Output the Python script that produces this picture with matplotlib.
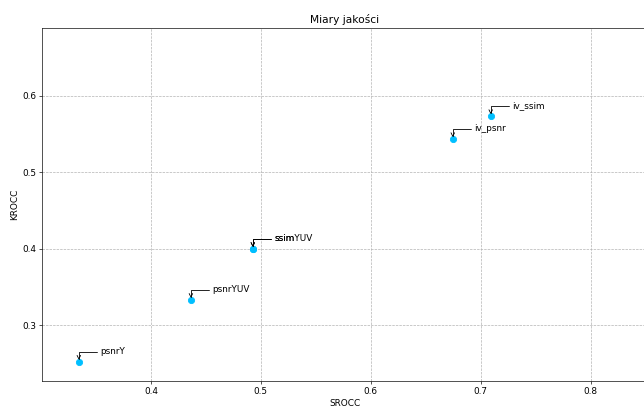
import matplotlib
matplotlib.use('Agg')
import matplotlib.pyplot as plt

# quality metrics: SROCC vs KROCC
labels = ['psnrY', 'psnrYUV', 'ssim', 'ssimYUV', 'iv_psnr', 'iv_ssim']
srocc = [0.3345, 0.4364, 0.4927, 0.4927, 0.6745, 0.7090]
krocc = [0.2523, 0.3333, 0.4000, 0.4000, 0.5438, 0.5739]

plt.rcParams['font.size'] = 10.6

fig = plt.figure(figsize=(644 / 60, 408 / 60), dpi=60)
ax = fig.add_axes([42 / 644, 27 / 408, 606 / 644, 353 / 408])

ax.plot(srocc, krocc, 'o', color='deepskyblue', markersize=7.5, zorder=3)

for name, x, y in zip(labels, srocc, krocc):
    ax.annotate(name, xy=(x, y), xytext=(26, 12), textcoords='offset points',
                va='center', fontsize=10.6,
                arrowprops=dict(arrowstyle='->', color='black',
                                connectionstyle='angle,angleA=0,angleB=90,rad=0'))

ax.set_xlim(0.301, 0.852)
ax.set_ylim(0.2268, 0.689)
ax.set_xticks([0.4, 0.5, 0.6, 0.7, 0.8])
ax.set_yticks([0.3, 0.4, 0.5, 0.6])
ax.grid(True, linestyle='--', color='#b0b0b0', linewidth=0.8)
ax.set_title('Miary jakości', fontsize=12.8)
ax.set_xlabel('SROCC')
ax.set_ylabel('KROCC')

fig.savefig('out.png', dpi=60)
